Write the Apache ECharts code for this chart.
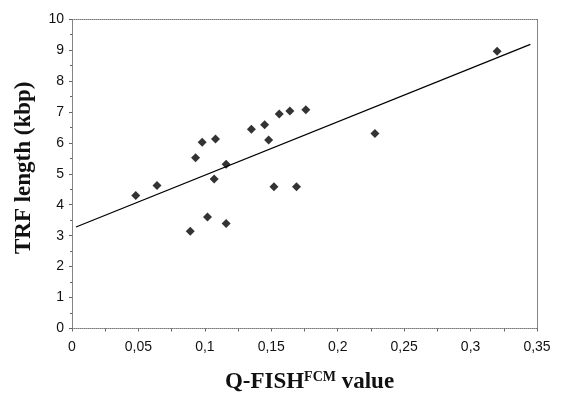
<!DOCTYPE html>
<html>
<head>
<meta charset="utf-8">
<script src="https://cdn.jsdelivr.net/npm/echarts@6/dist/echarts.min.js"></script>
<style>html,body{margin:0;padding:0;background:#fff}#main{width:565px;height:399px}</style>
</head>
<body>
<div id="main"></div>
<script>
// Q-FISH value vs TRF length
var qfish = [0.048, 0.064, 0.089, 0.093, 0.098, 0.102, 0.107, 0.108, 0.116, 0.116,
             0.135, 0.145, 0.148, 0.152, 0.156, 0.164, 0.169, 0.176, 0.228, 0.320];
var trf = [4.30, 4.62, 3.14, 5.52, 6.02, 3.60, 4.83, 6.12, 5.31, 3.39,
           6.44, 6.58, 6.09, 4.58, 6.93, 7.03, 4.58, 7.07, 6.30, 8.96];
// regression line ends
var fitX = [0.003, 0.345];
var fitY = [3.28, 9.18];

var pts = [];
for (var i = 0; i < qfish.length; i++) pts.push([qfish[i], trf[i]]);
var fit = [[fitX[0], fitY[0]], [fitX[1], fitY[1]]];

var chart = echarts.init(document.getElementById('main'));
var dotted = {color: '#777', width: 1, type: [1, 1]};
chart.setOption({
    animation: false,
    grid: {left: 72, top: 19, right: 28, bottom: 68},
    xAxis: [{
        type: 'value', min: 0, max: 0.35, interval: 0.05,
        axisLine: {show: true, onZero: false, lineStyle: dotted},
        axisTick: {show: true, length: 3, lineStyle: {color: '#666'}},
        minorTick: {show: true, splitNumber: 2, length: 3, lineStyle: {color: '#666'}},
        splitLine: {show: false},
        axisLabel: {
            color: '#111', fontSize: 14, fontFamily: 'Liberation Sans, Arial', margin: 12,
            formatter: function (v) { return String(+v.toFixed(2)).replace('.', ','); }
        },
        name: '{a|Q-FISH}{b|FCM}{a| value}',
        nameLocation: 'middle', nameGap: 42,
        nameTextStyle: {
            padding: [0, 0, 0, 10],
            rich: {
                a: {fontFamily: 'Liberation Serif, Times New Roman', fontWeight: 'bold', fontSize: 23, color: '#111'},
                b: {fontFamily: 'Liberation Serif, Times New Roman', fontWeight: 'bold', fontSize: 14, color: '#111', padding: [0, 0, 10, 0]}
            }
        }
    }, {
        type: 'value', position: 'top', min: 0, max: 0.35, interval: 0.05,
        axisLine: {show: true, onZero: false, lineStyle: dotted},
        axisTick: {show: false}, axisLabel: {show: false}, splitLine: {show: false}
    }],
    yAxis: [{
        type: 'value', min: 0, max: 10, interval: 1,
        axisLine: {show: true, onZero: false, lineStyle: dotted},
        axisTick: {show: true, length: 3, lineStyle: {color: '#666'}},
        minorTick: {show: true, splitNumber: 2, length: 2, lineStyle: {color: '#666'}},
        splitLine: {show: false},
        axisLabel: {color: '#111', fontSize: 14, fontFamily: 'Liberation Sans, Arial', margin: 8},
        name: 'TRF length (kbp)',
        nameLocation: 'middle', nameGap: 36, nameRotate: 90,
        nameTextStyle: {fontFamily: 'Liberation Serif, Times New Roman', fontWeight: 'bold', fontSize: 23, color: '#111', padding: [0, 0, 0, 12]}
    }, {
        type: 'value', position: 'right', min: 0, max: 10, interval: 1,
        axisLine: {show: true, onZero: false, lineStyle: dotted},
        axisTick: {show: false}, axisLabel: {show: false}, splitLine: {show: false}
    }],
    series: [{
        type: 'line',
        data: fit,
        showSymbol: false,
        lineStyle: {color: '#000', width: 1.3},
        silent: true
    }, {
        type: 'scatter',
        data: pts,
        symbol: 'diamond',
        symbolSize: 9,
        itemStyle: {color: '#000'}
    }]
});
</script>
</body>
</html>
